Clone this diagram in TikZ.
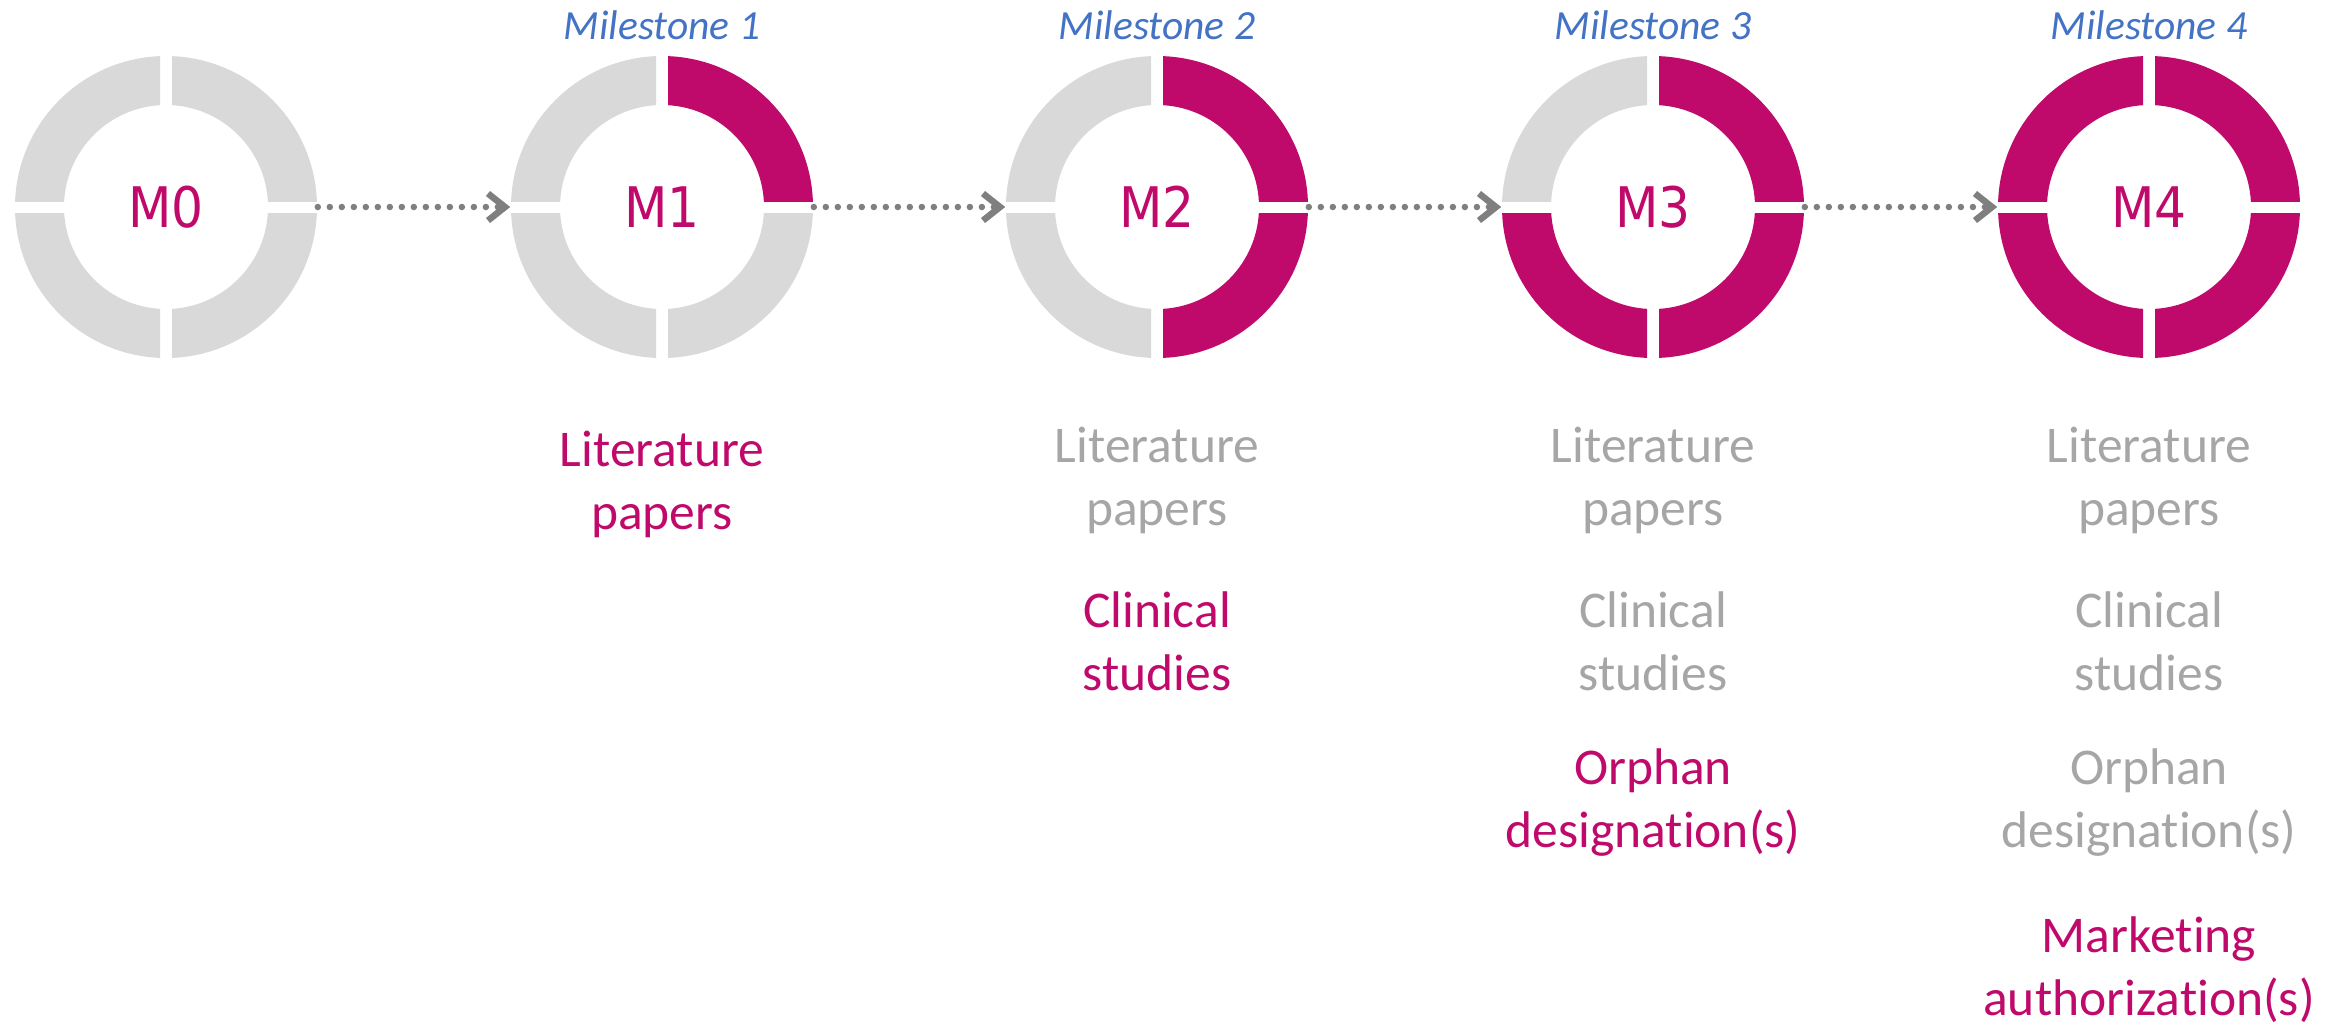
\documentclass[tikz,border=0pt]{standalone}
\usepackage{fontspec}
\setmainfont[RawFeature={-liga}]{Carlito}
\newfontfamily\ringfont[FakeStretch=0.9]{DejaVu Sans}
\usetikzlibrary{arrows.meta}

\definecolor{berry}{RGB}{192,10,107}
\definecolor{ringgray}{RGB}{217,217,217}
\definecolor{textgray}{RGB}{166,166,166}
\definecolor{arrowgray}{RGB}{127,127,127}
\definecolor{msblue}{RGB}{68,114,196}

% one quarter of a progress ring: centre (#1,#2), quadrant signs (#3,#4), colour #5
\newcommand{\ringquarter}[5]{%
  \begin{scope}
    \clip ({#1+(#3)*6},{#2+(#4)*6}) rectangle ({#1+(#3)*170},{#2+(#4)*170});
    \fill[#5,even odd rule] (#1,#2) circle[radius=151] (#1,#2) circle[radius=102];
  \end{scope}}
% full ring: centre, then colours of top-left, top-right, bottom-left, bottom-right
\newcommand{\progressring}[6]{%
  \ringquarter{#1}{#2}{-1}{-1}{#3}%
  \ringquarter{#1}{#2}{1}{-1}{#4}%
  \ringquarter{#1}{#2}{-1}{1}{#5}%
  \ringquarter{#1}{#2}{1}{1}{#6}}

\tikzset{
  ringnode/.style={circle, minimum size=3.02cm, inner sep=0pt, text=berry,
    font=\ringfont\fontsize{15.9pt}{19pt}\selectfont},
  mslabel/.style={anchor=base, text=msblue,
    font=\itshape\fontsize{11.8pt}{14pt}\selectfont},
  item/.style={anchor=base, align=center, inner sep=0pt,
    font=\fontsize{14.65pt}{17.9pt}\selectfont},
  itemdone/.style={item, text=textgray},
  itemnew/.style={item, text=berry},
  flow/.style={arrowgray, line width=0.065cm, line cap=round,
    dash pattern=on 0pt off 0.12cm,
    -{Straight Barb[length=0.17cm, width=0.27cm, line cap=butt]}},
}

\begin{document}
\begin{tikzpicture}[x=0.01cm, y=-0.01cm]
  \useasboundingbox (0,0) rectangle (2343,1026);

  % progress rings
  \progressring{166}{207}{ringgray}{ringgray}{ringgray}{ringgray}
  \progressring{662}{207}{ringgray}{berry}{ringgray}{ringgray}
  \progressring{1157}{207}{ringgray}{berry}{ringgray}{berry}
  \progressring{1653}{207}{ringgray}{berry}{berry}{berry}
  \progressring{2149}{207}{berry}{berry}{berry}{berry}

  \node[ringnode] (m0) at (166,207) {M0};
  \node[ringnode] (m1) at (662,207) {M1};
  \node[ringnode] (m2) at (1157,207) {M2};
  \node[ringnode] (m3) at (1653,207) {M3};
  \node[ringnode] (m4) at (2149,207) {M4};

  % transitions
  \draw[flow] (m0) -- (m1);
  \draw[flow] (m1) -- (m2);
  \draw[flow] (m2) -- (m3);
  \draw[flow] (m3) -- (m4);

  % milestone captions
  \node[mslabel] (ms1) at (662,39) {Milestone 1};
  \node[mslabel] (ms2) at (1157,39) {Milestone 2};
  \node[mslabel] (ms3) at (1653,39) {Milestone 3};
  \node[mslabel] (ms4) at (2149,39) {Milestone 4};

  % deliverables per milestone
  \node[itemnew]  (l1) at (662,529) {Literature\\papers};

  \node[itemdone] (l2) at (1157,525) {Literature\\papers};
  \node[itemnew]  (c2) at (1157,690) {Clinical\\studies};

  \node[itemdone] (l3) at (1653,525) {Literature\\papers};
  \node[itemdone] (c3) at (1653,690) {Clinical\\studies};
  \node[itemnew]  (o3) at (1653,847) {Orphan\\designation(s)};

  \node[itemdone] (l4) at (2149,525) {Literature\\papers};
  \node[itemdone] (c4) at (2149,690) {Clinical\\studies};
  \node[itemdone] (o4) at (2149,847) {Orphan\\designation(s)};
  \node[itemnew]  (a4) at (2149,1015) {Marketing\\authorization(s)};
\end{tikzpicture}
\end{document}
